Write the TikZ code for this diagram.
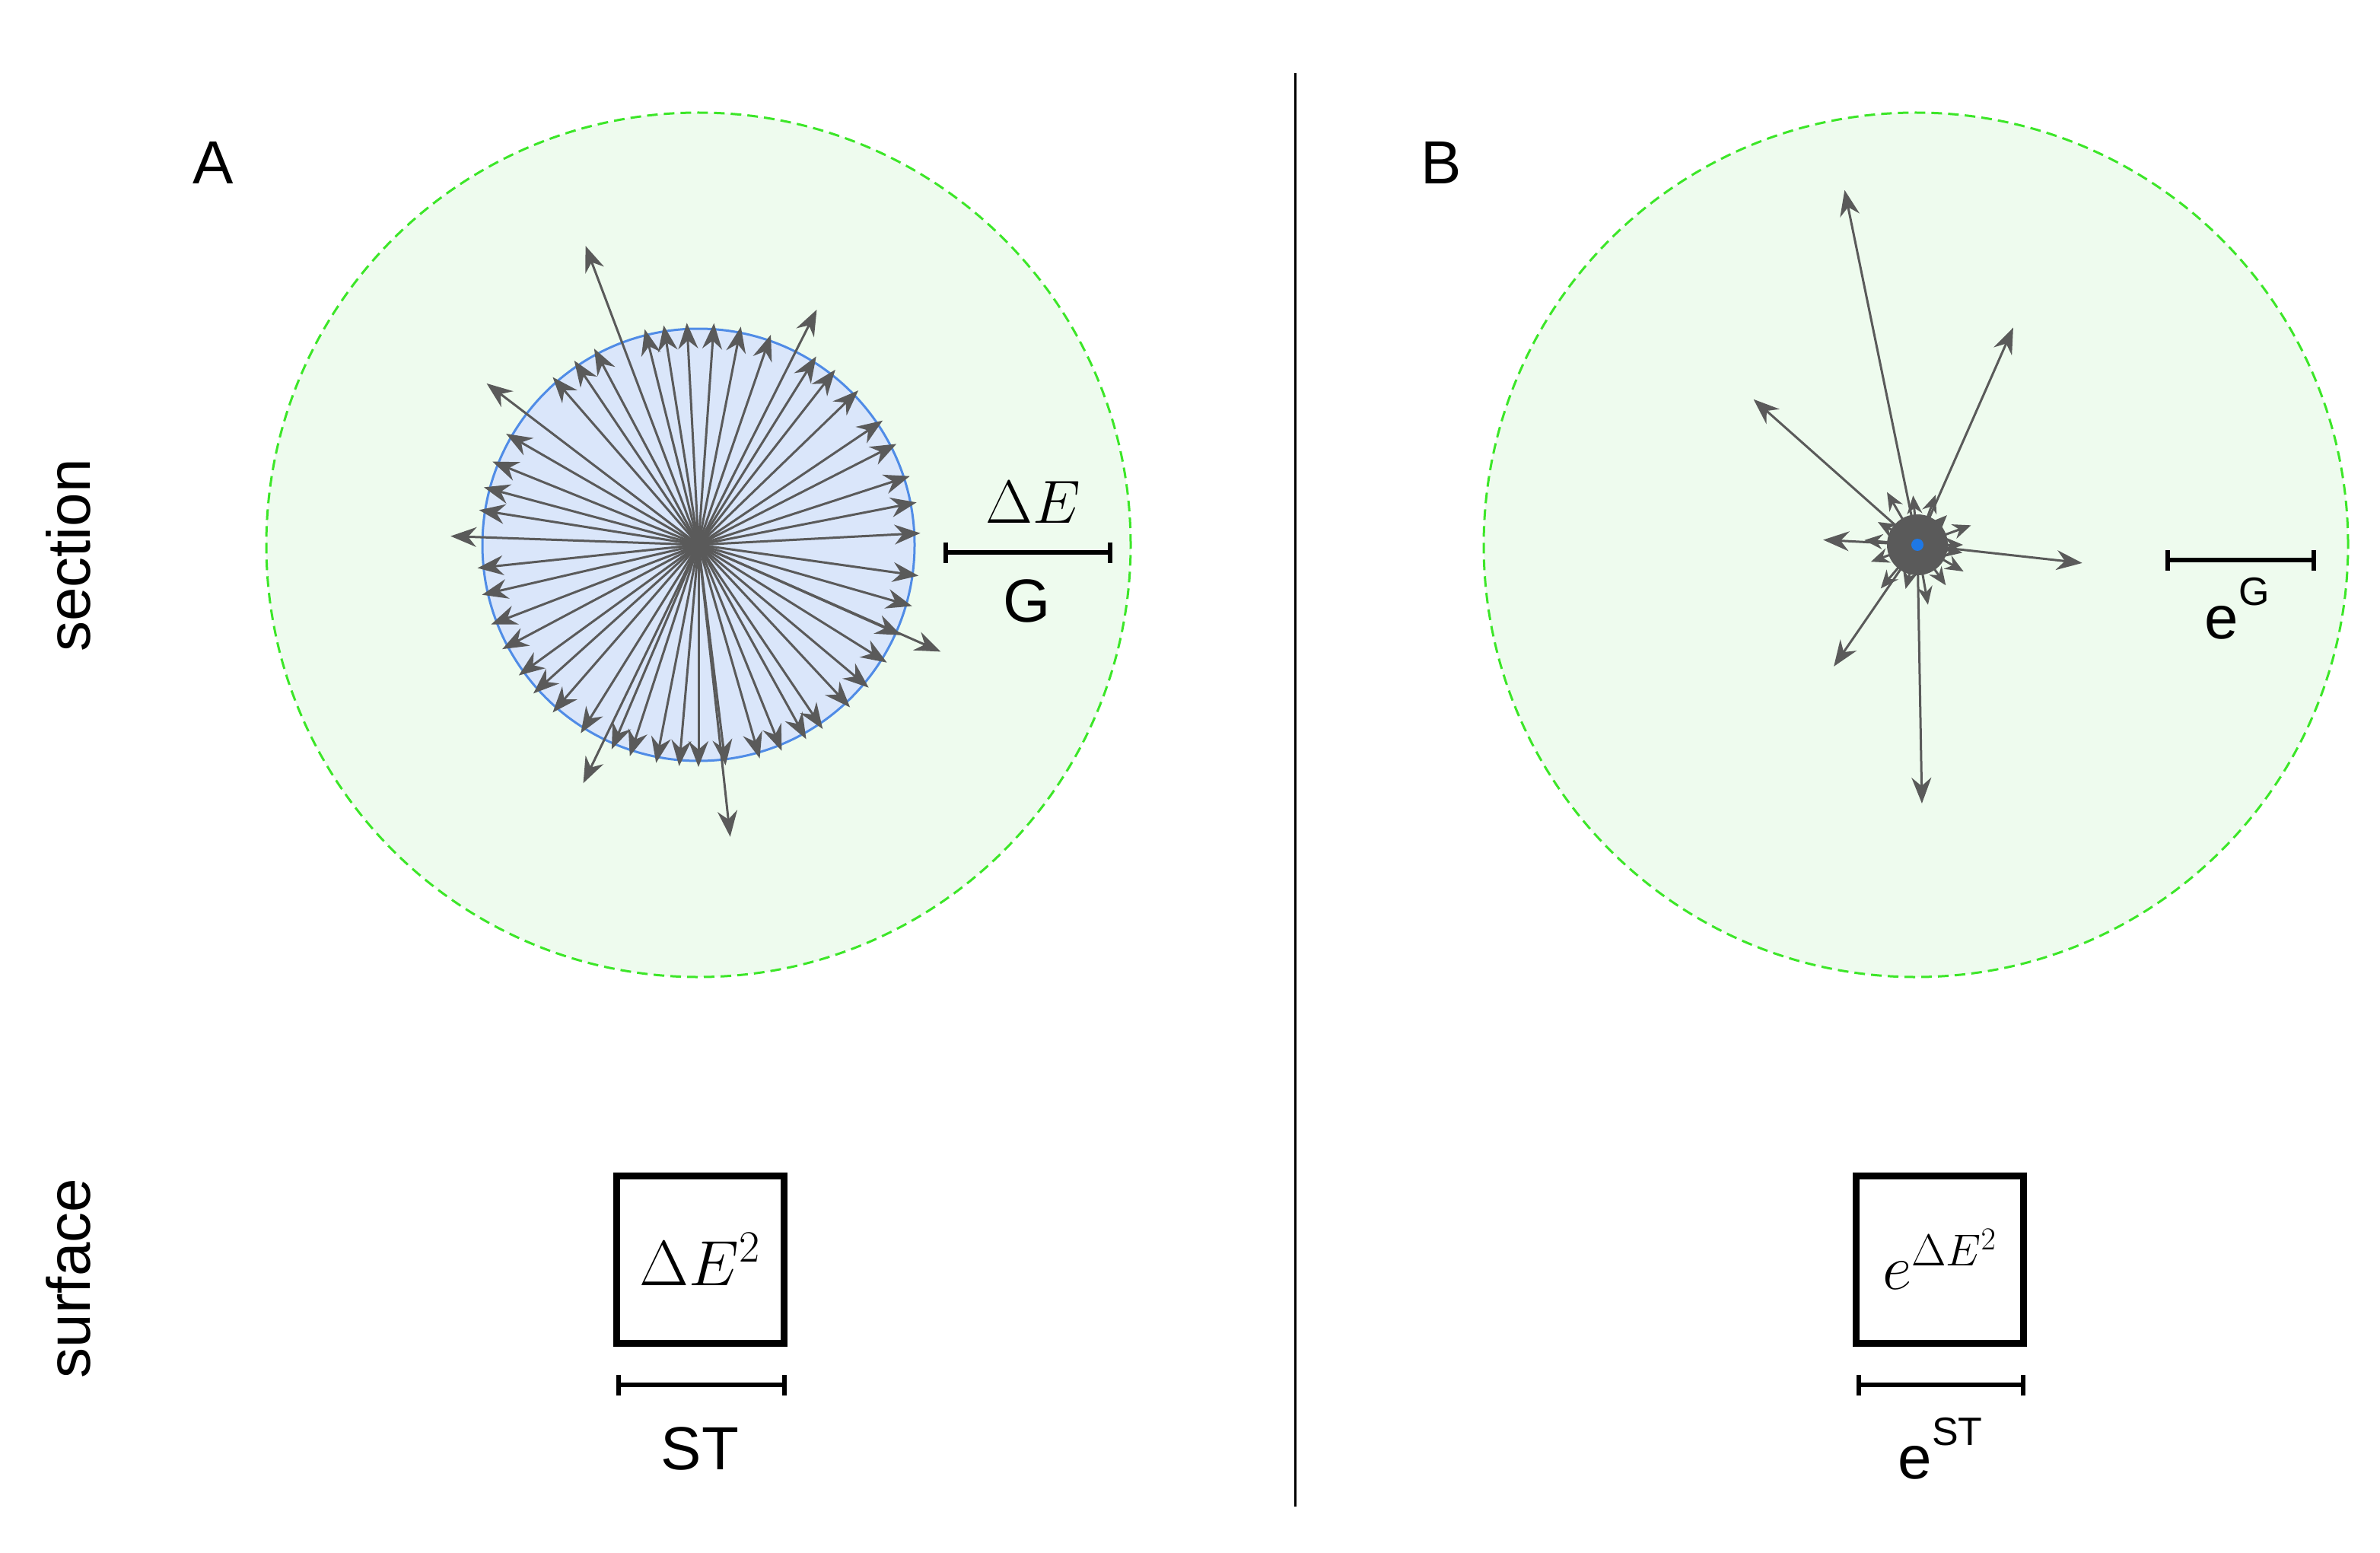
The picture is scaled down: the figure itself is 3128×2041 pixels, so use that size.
\RequirePackage{fix-cm}
\documentclass[tikz,border=0pt]{standalone}
\usepackage{fontspec}
\setmainfont{Liberation Sans}
\usetikzlibrary{arrows.meta}
\definecolor{ag}{RGB}{90,90,90}
\definecolor{gd}{RGB}{60,230,40}
\definecolor{gf}{RGB}{238,251,238}
\definecolor{bd}{RGB}{80,140,230}
\definecolor{bf}{RGB}{218,230,250}
\definecolor{dot}{RGB}{30,120,230}
\newcommand{\supx}[1]{\raisebox{0.55em}{\fontsize{52}{60}\selectfont #1}}
\begin{document}
\begin{tikzpicture}[x=1pt,y=-1pt,
  lbl/.style={font=\fontsize{80}{96}\selectfont},
  big/.style={draw=gd,dash pattern=on 14pt off 8pt,line width=3pt,fill=gf},
  arr/.style={draw=ag,line width=3pt,-{Stealth[length=34pt,width=26pt]}},
  sarr/.style={draw=ag,line width=3pt,-{Stealth[length=24pt,width=20pt]}},
  bar/.style={line width=6pt,|-|},
  box/.style={draw,line width=9pt,minimum size=220pt,inner sep=0pt,font=\fontsize{84}{100}\selectfont}]
\useasboundingbox (0,0) rectangle (3128,2041);
\fill[white] (0,0) rectangle (3128,2041);
\draw[line width=3pt] (1702,96) -- (1702,1980);
\node[lbl] (A) at (280,214) {A};
\node[lbl] (B) at (1894,214) {B};
\node[lbl,rotate=90] (sec) at (90,730) {section};
\node[lbl,rotate=90] (sur) at (90,1680) {surface};
% left
\node[big,circle,minimum size=1136pt] (c1) at (918,716) {};
\node[circle,draw=bd,line width=3pt,fill=bf,minimum size=568pt] (b1) at (918,716) {};
\coordinate (o1) at (918,716);
\foreach \a in {3,11,18,27,34,44,52,58,71,79,86,93,99,104,118,124,131,150,158,165,171,186,193,201,208,216,222,229,238,247,252,259,265,270,277,286,292,299,304,313,320,328,336,344,352}
  \draw[arr] (o1) -- ++({cos(\a)*292},{-sin(\a)*292});
\foreach \a/\l in {110.7/420,142.7/350,178/326,-115.8/348,-83.8/386,-23.8/348,63.3/346}
  \draw[arr] (o1) -- ++({cos(\a)*\l},{-sin(\a)*\l});
\draw[bar] (1240,726) coordinate (g1) -- (1462,726) coordinate (g2);
\node[lbl] (dE) at (1358,660) {$\Delta E$};
\node[lbl] (G) at (1350,790) {G};
\node[box] (bx1) at (920,1655) {$\Delta E^2$};
\draw[bar] (810,1820) -- (1034,1820);
\node[lbl] (st) at (920,1904) {ST};
% right
\node[big,circle,minimum size=1136pt] (c2) at (2518,716) {};
\coordinate (o2) at (2520,716);
\foreach \a/\l in {0/60,20/75,45/55,70/70,95/65,120/80,150/60,175/70,200/65,230/75,255/60,280/80,305/65,330/70,350/60}
  \draw[sarr] (o2) -- ++({cos(\a)*\l},{-sin(\a)*\l});
\fill[ag] (o2) circle (40pt);
\foreach \a/\l in {101.6/476,66.2/312,138.4/288,-6.3/218,177/124,-124.5/194,-89/340}
  \draw[arr] (o2) -- ++({cos(\a)*\l},{-sin(\a)*\l});
\fill[dot] (o2) circle (8pt);
\draw[bar] (2846,736) -- (3044,736);
\node[lbl] (eG) at (2940,800) {e\supx{G}};
\node[box] (bx2) at (2549,1655) {$e^{\Delta E^2}$};
\draw[bar] (2440,1820) -- (2662,1820);
\node[lbl] (est) at (2550,1904) {e\supx{ST}};
\end{tikzpicture}
\end{document}
